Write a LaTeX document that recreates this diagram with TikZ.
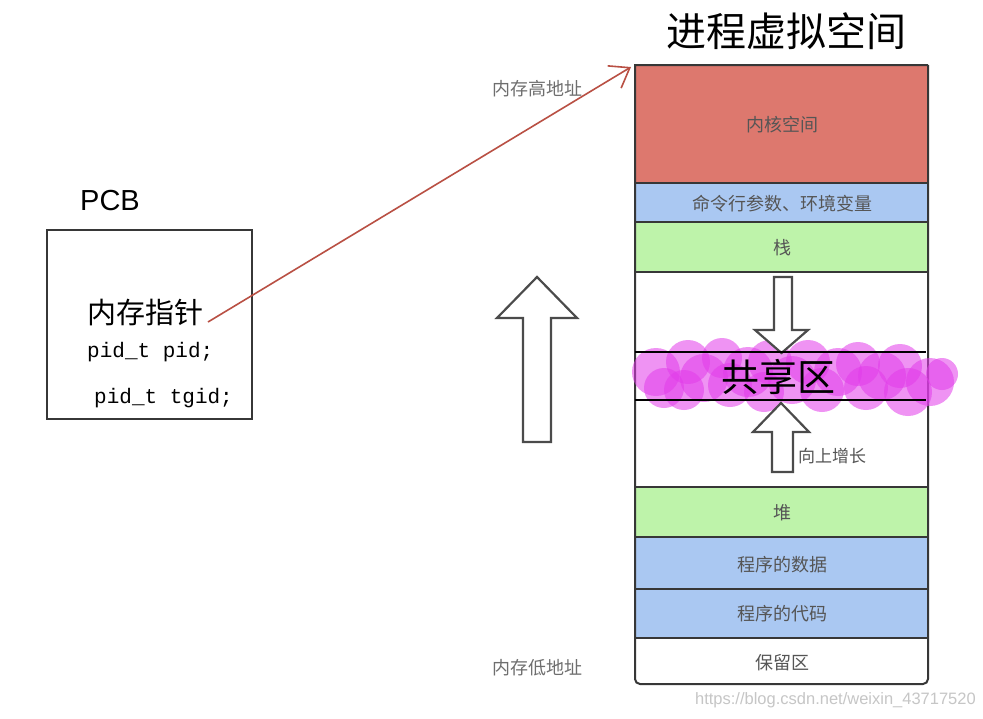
\documentclass[tikz,border=0pt]{standalone}
\usepackage{fontspec}
\usetikzlibrary{arrows.meta}
\setmainfont{Liberation Sans}
\newfontfamily\cjk{Noto Sans CJK SC}
\newfontfamily\hand{Liberation Mono}
\definecolor{kred}{RGB}{221,120,110}
\definecolor{lblue}{RGB}{170,200,242}
\definecolor{lgreen}{RGB}{190,243,170}
\definecolor{frame}{RGB}{55,55,55}
\definecolor{tgray}{RGB}{85,85,85}
\definecolor{arrred}{RGB}{185,80,68}
\definecolor{blob}{RGB}{226,60,234}
\begin{document}
\begin{tikzpicture}[x=1pt,y=-1pt,
  rowline/.style={draw=frame,line width=2pt},
  rowtxt/.style={font=\cjk\fontsize{18}{18}\selectfont,text=tgray,inner sep=0pt},
  sidetxt/.style={font=\cjk\fontsize{18}{18}\selectfont,text=tgray!85,inner sep=0pt},
  blockarrow/.style={draw=frame!90,line width=2.2pt,fill=white,line join=miter},
  blobc/.style={fill=blob,fill opacity=0.55,draw=none},
  shline/.style={draw=black,line width=1.8pt}]
\useasboundingbox (0,0) rectangle (983,718);
\fill[white] (0,0) rectangle (983,718);

% title
\node[font=\cjk\fontsize{40}{40}\selectfont,inner sep=0pt] (title) at (786,31) {进程虚拟空间};

% row fills
\fill[kred]   (635,65)  rectangle (928,183);
\fill[lblue]  (635,183) rectangle (928,222);
\fill[lgreen] (635,222) rectangle (928,272);
\fill[lgreen] (635,487) rectangle (928,537);
\fill[lblue]  (635,537) rectangle (928,589);
\fill[lblue]  (635,589) rectangle (928,638);

% separators
\foreach \yy in {183,222,272,487,537,589,638}
  \draw[rowline] (635,\yy) -- (928,\yy);
% outer frame
\draw[rowline] (928,65) -- (635,65) [rounded corners=5pt] -- (635,684) -- (928,684) -- (928,65);

% row labels
\node[rowtxt] (kernel) at (782,125) {内核空间};
\node[rowtxt] (env)    at (782,204) {命令行参数、环境变量};
\node[rowtxt] (stack)  at (782,248) {栈};
\node[rowtxt] (heap)   at (782,513) {堆};
\node[rowtxt] (data)   at (782,565) {程序的数据};
\node[rowtxt] (code)   at (782,614) {程序的代码};
\node[rowtxt] (resv)   at (782,663) {保留区};

% side labels
\node[sidetxt] (hiaddr) at (537,89)  {内存高地址};
\node[sidetxt] (loaddr) at (537,668) {内存低地址};

% shared region highlight
\foreach \cx/\cy/\r in {656/372/24,664/388/20,688/362/22,684/390/20,704/378/24,
  722/358/20,730/385/22,748/372/25,764/392/20,770/362/22,792/380/24,
  808/362/22,822/390/22,838/372/24,858/364/22,866/388/22,882/376/24,
  900/366/22,908/392/24,930/382/24,942/374/16}
  \fill[blobc] (\cx,\cy) circle (\r);

% down arrow (stack grows down)
\draw[blockarrow] (774,277) -- (792,277) -- (792,330) -- (808,330) -- (781.5,353)
  -- (755,330) -- (774,330) -- cycle;
% up arrow (heap grows up)
\draw[blockarrow] (772,472) -- (772,432) -- (753,432) -- (781,403) -- (809,432)
  -- (793,432) -- (793,472) -- cycle;
\node[font=\cjk\fontsize{17}{17}\selectfont,text=tgray,inner sep=0pt,anchor=west] (grow) at (798,456) {向上增长};

% shared region lines and label
\draw[shline] (635,352) -- (926,352);
\draw[shline] (635,400) -- (926,400);
\node[font=\cjk\fontsize{38}{38}\selectfont,inner sep=0pt] (shared) at (778,377) {共享区};

% big up arrow
\draw[blockarrow] (523,442) -- (523,318) -- (497,318) -- (537,277) -- (577,318)
  -- (551,318) -- (551,442) -- cycle;

% PCB
\node[font=\fontsize{29}{29}\selectfont,inner sep=0pt] (pcbt) at (110,201) {PCB};
\draw[line width=2pt,draw=frame] (47,230) rectangle (252,419);
\node[font=\cjk\fontsize{29}{29}\selectfont,inner sep=0pt] (memptr) at (145,313) {内存指针};
\node[font=\hand\fontsize{21}{21}\selectfont,inner sep=0pt,anchor=west] (pid) at (87,352) {pid\_t pid;};
\node[font=\hand\fontsize{21}{21}\selectfont,inner sep=0pt,anchor=west] (tgid) at (94,398) {pid\_t tgid;};

% pointer arrow
\coordinate (ptrstart) at (208,322);
\coordinate (hitop) at (631,67);
\draw[arrred,line width=1.6pt,-{Straight Barb[length=18pt,width=26pt,line width=1.6pt]}] (ptrstart) -- (hitop);

% watermark
\node[font=\fontsize{16.5}{16.5}\selectfont,text=gray!45,inner sep=0pt,anchor=east] (wm) at (976,700) {https://blog.csdn.net/weixin\_43717520};
\end{tikzpicture}
\end{document}
